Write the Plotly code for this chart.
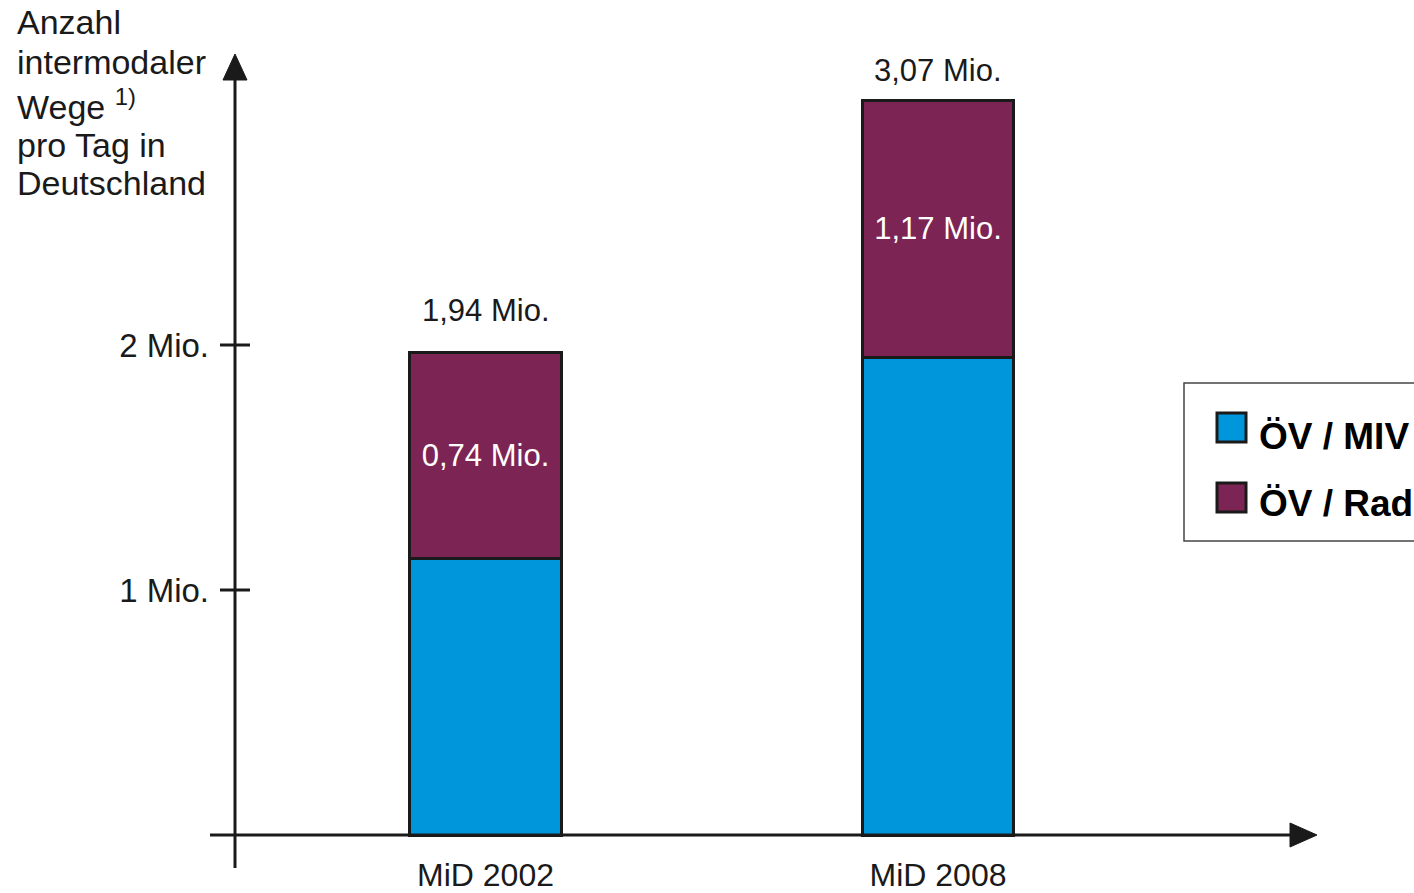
import plotly.graph_objects as go

# ---- data ----
categories = ["MiD 2002", "MiD 2008"]
oev_miv = [1.13, 1.95]          # blue segment (Mio.)
oev_rad = [0.84, 1.05]          # purple segment (Mio.)
rad_labels = ["0,74 Mio.", "1,17 Mio."]
total_labels = ["1,94 Mio.", "3,07 Mio."]
totals = [a + b for a, b in zip(oev_miv, oev_rad)]
ytick_vals = [1, 2]
ytick_text = ["1 Mio.", "2 Mio."]
series_names = ["ÖV / MIV", "ÖV / Rad"]
title_lines = ["Anzahl", "intermodaler", "Wege <sup>1)</sup>", "pro Tag in", "Deutschland"]

BLUE = "#0096DC"
PURPLE = "#7C2453"
INK = "#1a1a1a"
FONT = "Liberation Sans, Arial, sans-serif"

W, H = 1414, 893
# pixel geometry helpers (layout only)
X0_PX, DX_PX = 485.5, 452.5     # category 0 centre, px per category
Y0_PX, DY_PX = 835.0, 245.0     # y=0 row, px per Mio.
xr = [-X0_PX / DX_PX, (W - X0_PX) / DX_PX]
yr = [-(H - Y0_PX) / DY_PX, Y0_PX / DY_PX]

def px_x(p):
    return p / W

def px_y(p):
    return 1 - p / H

fig = go.Figure()
fig.add_trace(go.Bar(
    x=categories, y=oev_miv, name=series_names[0], width=0.334,
    marker=dict(color=BLUE, line=dict(color=INK, width=3)),
    textposition="none",
    showlegend=False, hoverinfo="skip"))
fig.add_trace(go.Bar(
    x=categories, y=oev_rad, name=series_names[1], width=0.334,
    marker=dict(color=PURPLE, line=dict(color=INK, width=3)),
    text=rad_labels, textposition="inside", insidetextanchor="middle",
    textfont=dict(color="white", size=31, family=FONT),
    showlegend=False, hoverinfo="skip"))

shapes = []
# axis lines
shapes.append(dict(type="line", xref="paper", yref="paper",
                   x0=px_x(235), x1=px_x(235), y0=px_y(868), y1=px_y(75),
                   line=dict(color=INK, width=3)))
shapes.append(dict(type="line", xref="paper", yref="paper",
                   x0=px_x(210), x1=px_x(1295), y0=px_y(835), y1=px_y(835),
                   line=dict(color=INK, width=3)))
# arrow heads
shapes.append(dict(type="path", xref="paper", yref="paper",
                   path="M {} {} L {} {} L {} {} Z".format(
                       px_x(235), px_y(54), px_x(223), px_y(80), px_x(247), px_y(80)),
                   fillcolor=INK, line=dict(color=INK, width=1)))
shapes.append(dict(type="path", xref="paper", yref="paper",
                   path="M {} {} L {} {} L {} {} Z".format(
                       px_x(1317), px_y(835), px_x(1290), px_y(823), px_x(1290), px_y(847)),
                   fillcolor=INK, line=dict(color=INK, width=1)))
# tick marks crossing the y axis
for v in ytick_vals:
    shapes.append(dict(type="line", xref="paper", yref="y",
                       x0=px_x(220), x1=px_x(250), y0=v, y1=v,
                       line=dict(color=INK, width=3)))
# legend box
shapes.append(dict(type="rect", xref="paper", yref="paper",
                   x0=px_x(1184), x1=px_x(1440), y0=px_y(541), y1=px_y(383),
                   line=dict(color="#444", width=1.5), fillcolor="white"))
legend_rows = [(413, 437, BLUE), (483, 503, PURPLE)]
for (top, _, col) in legend_rows:
    shapes.append(dict(type="rect", xref="paper", yref="paper",
                       x0=px_x(1217), x1=px_x(1246), y0=px_y(top + 29), y1=px_y(top),
                       line=dict(color=INK, width=3), fillcolor=col))

annotations = []
# total labels above the bars
for cat, tot, lab, off in zip(categories, totals, total_labels, [42, 30]):
    annotations.append(dict(x=cat, y=tot, xref="x", yref="y", text=lab,
                            showarrow=False, yanchor="middle", yshift=off,
                            font=dict(size=31, color=INK, family=FONT)))
# y axis title (one annotation per line)
for line, cy in zip(title_lines, [22, 62, 104, 145, 183]):
    annotations.append(dict(xref="paper", yref="paper", x=px_x(15), y=px_y(cy),
                            xanchor="left", yanchor="middle", align="left",
                            showarrow=False, text=line,
                            font=dict(size=34, color=INK, family=FONT)))
# legend texts
for (top, cy, _), name in zip(legend_rows, series_names):
    annotations.append(dict(xref="paper", yref="paper", x=px_x(1257), y=px_y(cy),
                            xanchor="left", yanchor="middle", showarrow=False,
                            text="<b>" + name + "</b>",
                            font=dict(size=37, color="black", family=FONT)))

fig.update_layout(
    width=W, height=H,
    margin=dict(l=0, r=0, t=0, b=0),
    paper_bgcolor="white", plot_bgcolor="white",
    barmode="stack", showlegend=False,
    font=dict(family=FONT, color=INK),
    xaxis=dict(type="category", range=xr, showgrid=False, zeroline=False,
               showline=False, ticks="", anchor="free", position=px_y(835),
               tickfont=dict(size=32, family=FONT, color=INK),
               ticklabelstandoff=18, fixedrange=True),
    yaxis=dict(range=yr, showgrid=False, zeroline=False, showline=False,
               tickvals=ytick_vals, ticktext=ytick_text, ticks="",
               anchor="free", position=px_x(235),
               tickfont=dict(size=33, family=FONT, color=INK),
               ticklabelstandoff=26, fixedrange=True),
    shapes=shapes,
    annotations=annotations,
)

fig.write_html("out.html", config={"displayModeBar": False},
               post_script="document.body.style.margin='0';")
